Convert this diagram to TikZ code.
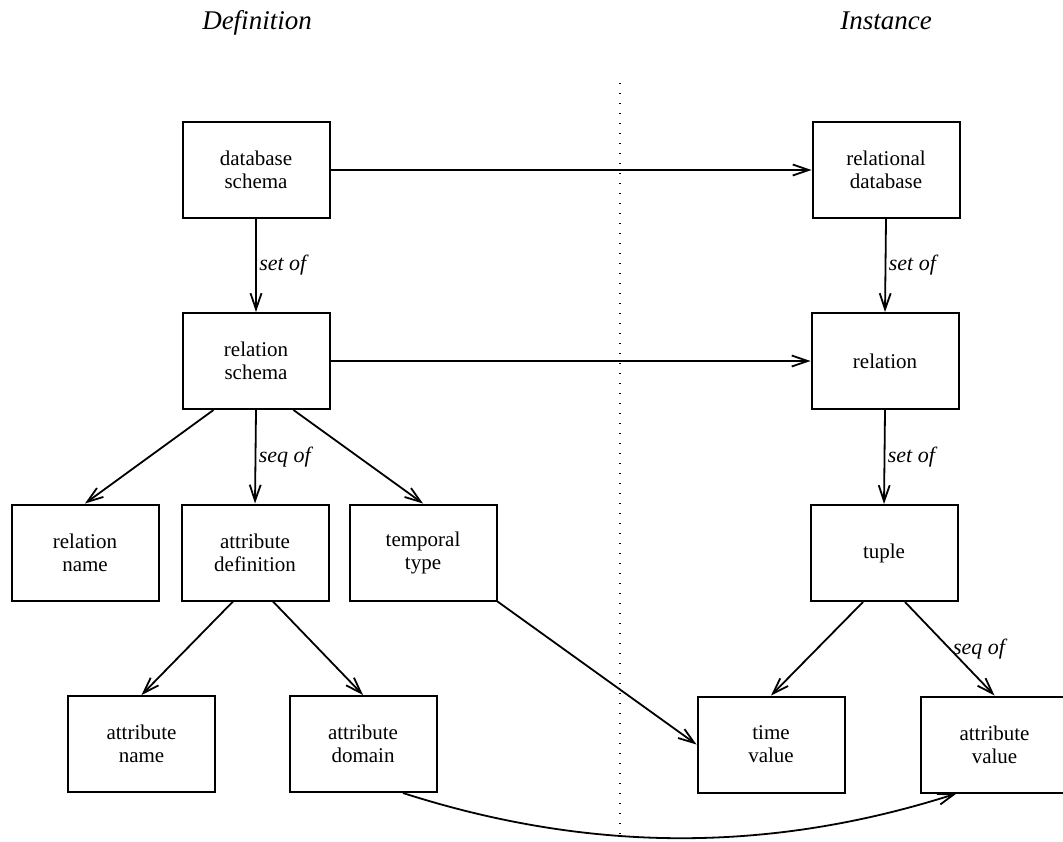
\documentclass[tikz,border=0pt]{standalone}
\usepackage{fontspec}
\setmainfont{Liberation Serif}
\usetikzlibrary{arrows.meta,calc}
\begin{document}
\begin{tikzpicture}[x=0.5pt,y=-0.5pt,
  box/.style={draw, line width=1pt, minimum width=73.5pt, minimum height=48pt, align=center, inner sep=0pt, font=\fontsize{10.5}{11.5}\selectfont},
  conn/.style={line width=0.9pt, -{Straight Barb[length=8pt,width=5.5pt,line width=0.9pt]}},
  lab/.style={font=\fontsize{11}{12}\selectfont\itshape, inner sep=1.2pt},
  head/.style={font=\fontsize{13.5}{15}\selectfont\itshape, anchor=base},
  divider/.style={line width=0.9pt, dash pattern=on 0.6pt off 4.4pt}]
\useasboundingbox (0,0) rectangle (1063,841);
% headings
\node[head] (hdef) at (257,29) {Definition};
\node[head] (hins) at (886,29) {Instance};
% divider
\coordinate (dtop) at (620,83);
\coordinate (dbot) at (620,841);
\draw[divider] (dtop) -- (dbot);
% boxes
\node[box] (dbs)  at (256,170)   {database\\schema};
\node[box] (rdb)  at (886,170)   {relational\\database};
\node[box] (rs)   at (256,361)   {relation\\schema};
\node[box] (rel)  at (885,361)   {relation};
\node[box] (rn)   at (85,552.5)  {relation\\name};
\node[box] (ad)   at (255,552.5) {attribute\\definition};
\node[box] (tt)   at (423,552.5) {temporal\\type};
\node[box] (tup)  at (884,553)   {tuple};
\node[box] (an)   at (141.5,744) {attribute\\name};
\node[box] (adom) at (363,744)   {attribute\\domain};
\node[box] (tv)   at (771,744.5) {time\\value};
\node[box] (av)   at (994.5,744.5) {attribute\\value};
% connectors
\draw[conn] (dbs.east) -- (rdb.west);
\draw[conn] (rs.east) -- (rel.west);
\draw[conn] (dbs.south) -- node[lab, right] {set of} (rs.north);
\draw[conn] (rdb.south) -- node[lab, right] {set of} (rel.north);
\draw[conn] (rel.south) -- node[lab, right] {set of} (tup.north);
\draw[conn] ($(rs.south)+(-42.5,0)$) -- (rn.north);
\draw[conn] (rs.south) -- node[lab, right] {seq of} (ad.north);
\draw[conn] ($(rs.south)+(37.5,0)$) -- (tt.north);
\draw[conn] ($(ad.south)+(-22,0)$) -- (an.north);
\draw[conn] ($(ad.south)+(18,0)$) -- (adom.north);
\draw[conn] (tt.south east) -- (tv.west);
\draw[conn] ($(tup.south)+(-21,0)$) -- (tv.north);
\draw[conn] ($(tup.south)+(21,0)$) -- node[lab, right] {seq of} (av.north);
\draw[conn] ($(adom.south)+(40,0)$) .. controls (590,853) and (770,853) .. ($(av.south)+(-38,0)$);
\end{tikzpicture}
\end{document}
